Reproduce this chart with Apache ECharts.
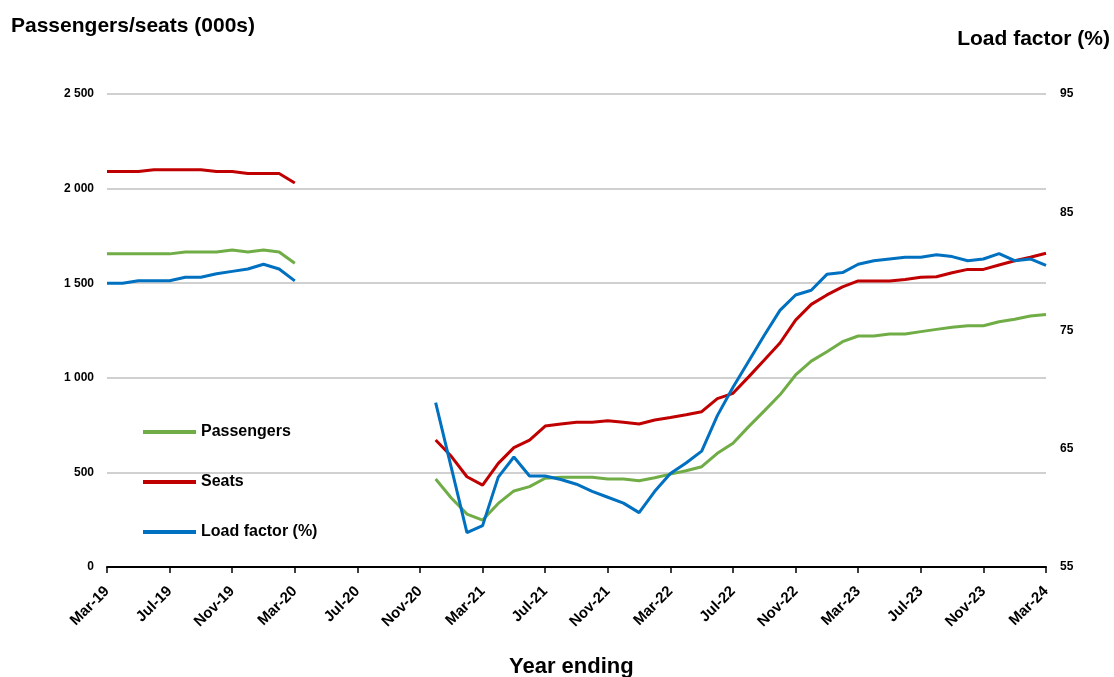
<!DOCTYPE html>
<html>
<head>
<meta charset="utf-8">
<script src="https://cdn.jsdelivr.net/npm/echarts@6/dist/echarts.min.js"></script>
<style>
html,body{margin:0;padding:0;background:#fff;}
#chart{width:1114px;height:677px;}
</style>
</head>
<body>
<div id="chart"></div>
<script>
const categories = [
 'Mar-19','Apr-19','May-19','Jun-19','Jul-19','Aug-19','Sep-19','Oct-19','Nov-19','Dec-19','Jan-20','Feb-20',
 'Mar-20','Apr-20','May-20','Jun-20','Jul-20','Aug-20','Sep-20','Oct-20','Nov-20','Dec-20','Jan-21','Feb-21',
 'Mar-21','Apr-21','May-21','Jun-21','Jul-21','Aug-21','Sep-21','Oct-21','Nov-21','Dec-21','Jan-22','Feb-22',
 'Mar-22','Apr-22','May-22','Jun-22','Jul-22','Aug-22','Sep-22','Oct-22','Nov-22','Dec-22','Jan-23','Feb-23',
 'Mar-23','Apr-23','May-23','Jun-23','Jul-23','Aug-23','Sep-23','Oct-23','Nov-23','Dec-23','Jan-24','Feb-24',
 'Mar-24'
];
const passengers = [
 1655,1655,1655,1655,1655,1665,1665,1665,1675,1665,1675,1665,
 1605,null,null,null,null,null,null,null,null,465,365,280,
 248,336,402,425,469,474,474,474,465,465,456,472,
 491,509,530,601,654,742,825,910,1015,1088,1138,1191,
 1221,1221,1231,1231,1244,1256,1267,1275,1275,1296,1309,1327,
 1335
];
const seats = [
 2090,2090,2090,2100,2100,2100,2100,2090,2090,2080,2080,2080,
 2030,null,null,null,null,null,null,null,null,671,585,477,
 433,548,631,671,745,756,765,765,773,765,756,777,
 790,805,821,890,918,1005,1094,1184,1305,1388,1438,1481,
 1512,1512,1512,1520,1531,1534,1555,1573,1573,1596,1619,1637,
 1658
];
const loadFactor = [
 79.0,79.0,79.2,79.2,79.2,79.5,79.5,79.8,80.0,80.2,80.6,80.2,
 79.2,null,null,null,null,null,null,null,null,68.9,63.4,57.9,
 58.5,62.6,64.3,62.7,62.7,62.4,62.0,61.4,60.9,60.4,59.6,61.4,
 62.9,63.8,64.8,67.8,70.2,72.4,74.6,76.7,78.0,78.4,79.75,79.9,
 80.6,80.9,81.05,81.2,81.2,81.4,81.25,80.9,81.05,81.5,80.9,81.05,
 80.5
];
const seriesNames = ['Passengers','Seats','Load factor (%)'];
const colors = ['#70AD47','#C00000','#0070C0'];

const FONT = '"Liberation Sans", Arial, sans-serif';
const chart = echarts.init(document.getElementById('chart'), null, {renderer:'canvas'});
chart.setOption({
  animation:false,
  backgroundColor:'#ffffff',
  grid:{left:107,right:68,top:94,bottom:110,containLabel:false},
  legend:{
    orient:'vertical', left:138, top:417, itemGap:30,
    itemWidth:53, itemHeight:4, icon:'rect',
    data:seriesNames,
    textStyle:{fontFamily:FONT,fontWeight:'bold',fontSize:16,color:'#000',lineHeight:20}
  },
  xAxis:{
    type:'category', data:categories, boundaryGap:false,
    axisLine:{lineStyle:{color:'#000',width:2}},
    axisTick:{show:true,interval:3,length:6,inside:false,lineStyle:{color:'#000',width:1.5}},
    axisLabel:{interval:3,rotate:45,margin:22,fontFamily:FONT,fontWeight:'bold',fontSize:15,color:'#000'},
    splitLine:{show:false}
  },
  yAxis:[
    {type:'value',min:0,max:2500,interval:500,position:'left',
     axisLine:{show:false},axisTick:{show:false},
     axisLabel:{margin:13,fontFamily:FONT,fontWeight:'bold',fontSize:12,color:'#000',
       formatter:v=>String(v).replace(/\B(?=(\d{3})+(?!\d))/g,' ')},
     splitLine:{show:true,lineStyle:{color:'#c0c0c0',width:1.5}}},
    {type:'value',min:55,max:95,interval:10,position:'right',
     axisLine:{show:false},axisTick:{show:false},
     axisLabel:{margin:14,fontFamily:FONT,fontWeight:'bold',fontSize:12,color:'#000'},
     splitLine:{show:false}}
  ],
  series:[
    {name:seriesNames[0],type:'line',data:passengers,yAxisIndex:0,showSymbol:false,symbol:'none',
     connectNulls:false,lineStyle:{color:colors[0],width:3},itemStyle:{color:colors[0]},z:2},
    {name:seriesNames[1],type:'line',data:seats,yAxisIndex:0,showSymbol:false,symbol:'none',
     connectNulls:false,lineStyle:{color:colors[1],width:3},itemStyle:{color:colors[1]},z:3},
    {name:seriesNames[2],type:'line',data:loadFactor,yAxisIndex:1,showSymbol:false,symbol:'none',
     connectNulls:false,lineStyle:{color:colors[2],width:3},itemStyle:{color:colors[2]},z:4}
  ],
  graphic:[
    {type:'text',left:11,top:16,style:{text:'Passengers/seats (000s)',fontFamily:FONT,fontWeight:'bold',fontSize:21,fill:'#000'}},
    {type:'text',right:4,top:29,style:{text:'Load factor (%)',fontFamily:FONT,fontWeight:'bold',fontSize:21,fill:'#000'}},
    {type:'text',left:509,top:656,style:{text:'Year ending',fontFamily:FONT,fontWeight:'bold',fontSize:22,fill:'#000'}}
  ]
});
</script>
</body>
</html>
